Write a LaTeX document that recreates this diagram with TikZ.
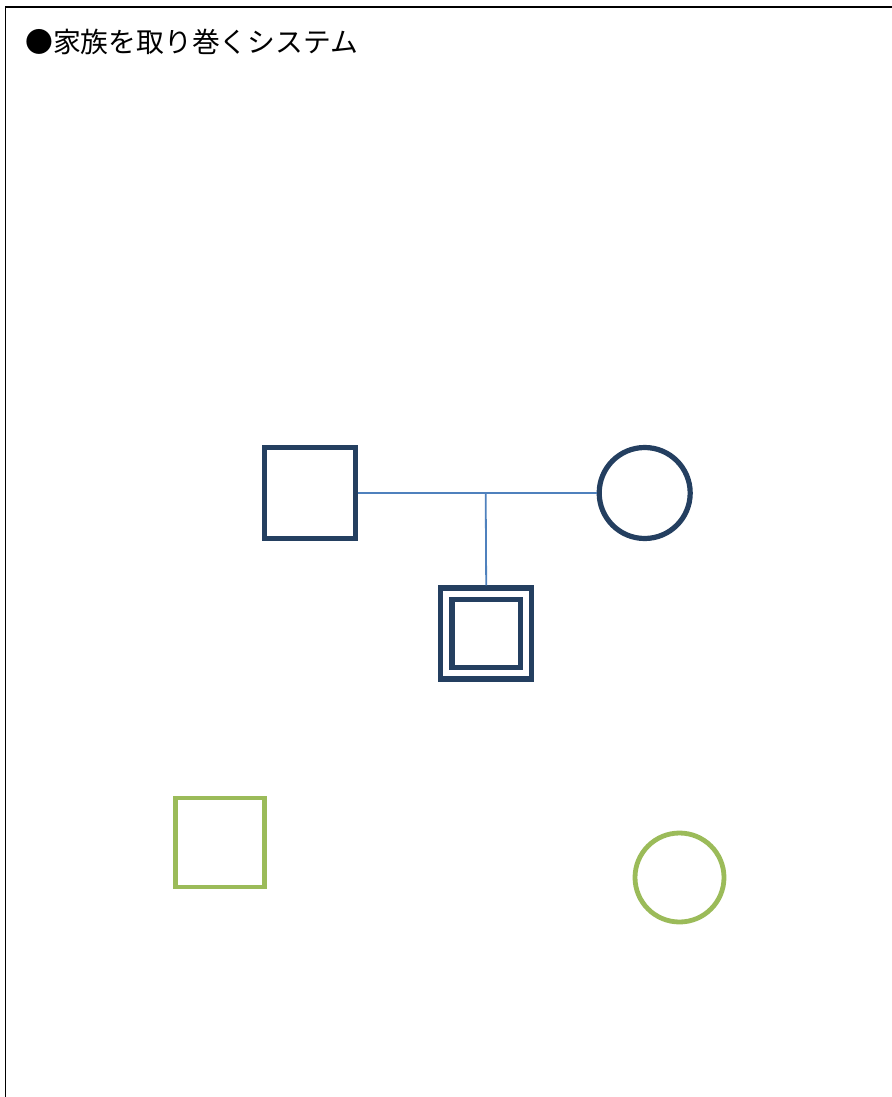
\documentclass[tikz,border=0pt]{standalone}
\usepackage{fontspec}
\newfontfamily\cjk{Noto Sans CJK JP}
\definecolor{navy}{HTML}{243F60}
\definecolor{linkblue}{HTML}{4F81BD}
\definecolor{olivegreen}{HTML}{9BBB59}
\begin{document}
\begin{tikzpicture}[x=1pt,y=-1pt,
  frameline/.style={draw=black,line width=1.3pt},
  navybox/.style={draw=navy,line width=5.2pt,minimum size=91pt,inner sep=0pt,rectangle},
  navycirc/.style={draw=navy,line width=5.2pt,minimum size=91pt,inner sep=0pt,circle},
  greenbox/.style={draw=olivegreen,line width=4.8pt,minimum size=89pt,inner sep=0pt,rectangle},
  greencirc/.style={draw=olivegreen,line width=4.8pt,minimum size=89pt,inner sep=0pt,circle},
  link/.style={draw=linkblue,line width=1.8pt},
  title/.style={font=\cjk\fontsize{27.8}{32}\selectfont,anchor=west,inner sep=0pt}]
\useasboundingbox (0,0) rectangle (891,1097);
\coordinate (ftl) at (5.5,7);
\coordinate (ftr) at (892,7);
\coordinate (fbl) at (5.5,1098);
\draw[frameline] (ftr) -- (ftl) -- (fbl);
\node[title] (t) at (25,42) {●家族を取り巻くシステム};
\node[navybox] (father) at (309.8,493) {};
\node[navycirc] (mother) at (644.7,493) {};
\node[navybox,minimum size=91pt] (child) at (486.2,633.5) {};
\node[draw=navy,line width=5.2pt,minimum size=68.5pt,inner sep=0pt,rectangle] (childin) at (486.2,633.5) {};
\draw[link] (father.east) -- (mother.west);
\coordinate (mid) at (485.7,492.5);
\draw[link] (mid) -- (child.north);
\node[greenbox] (g1) at (220,842.5) {};
\node[greencirc] (g2) at (679.5,877.5) {};
\end{tikzpicture}
\end{document}
